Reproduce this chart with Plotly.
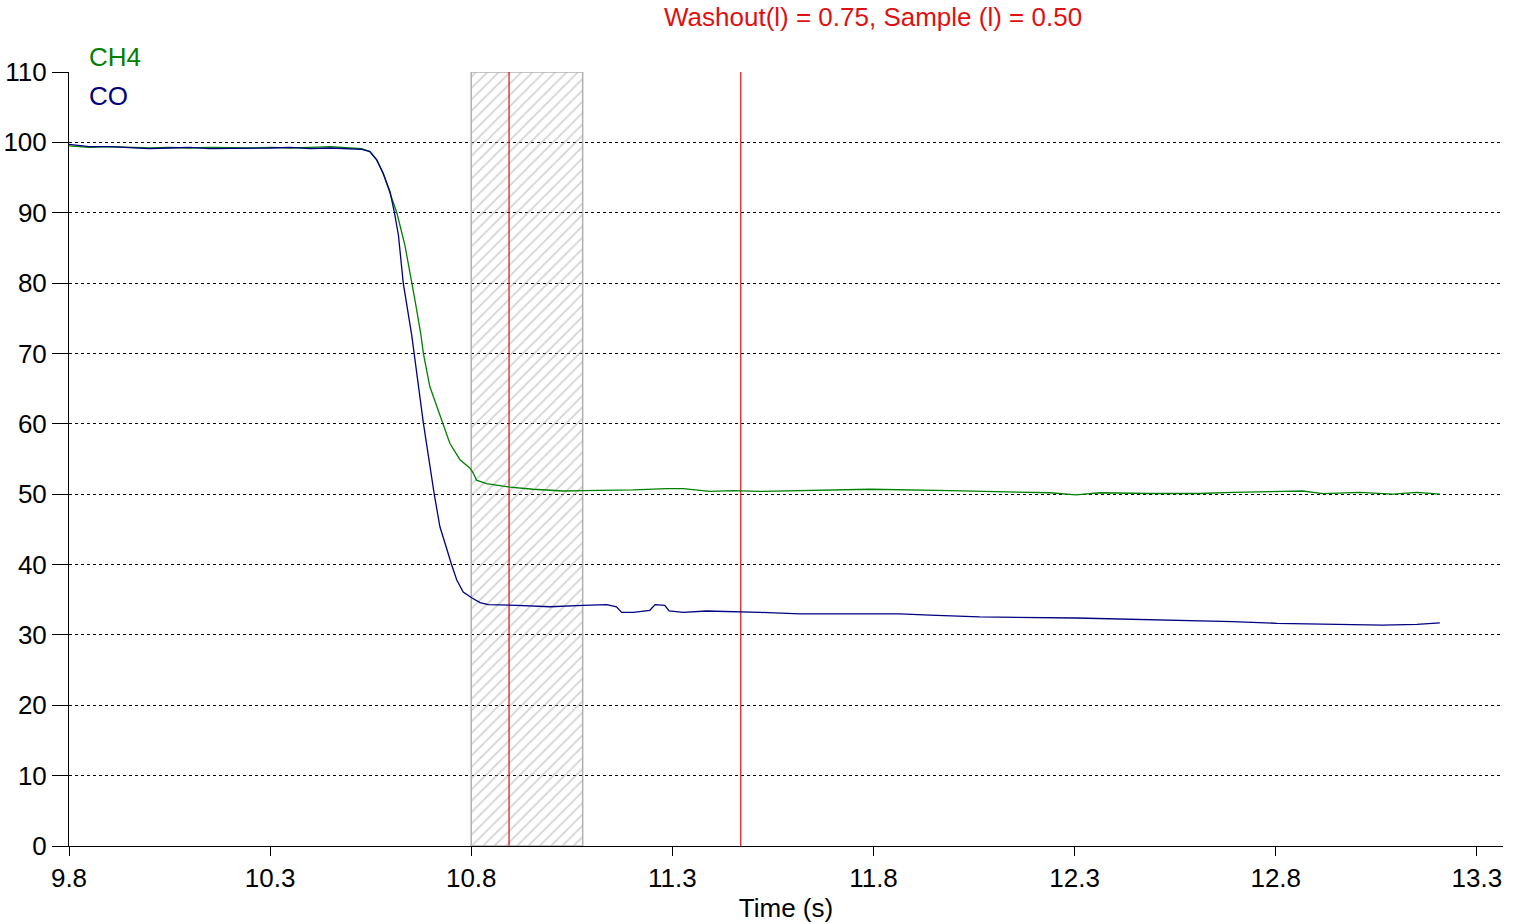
import plotly.graph_objects as go

# ---- data ----
co_t = [9.80, 9.85, 9.90, 9.95, 10.00, 10.05, 10.10, 10.15, 10.20, 10.25, 10.30, 10.35, 10.40, 10.45,
        10.498, 10.528, 10.548, 10.565, 10.581, 10.598, 10.609, 10.619, 10.631, 10.638, 10.652, 10.658,
        10.681, 10.708, 10.722, 10.751, 10.764, 10.780, 10.803, 10.822, 10.842, 10.913, 10.996, 11.078,
        11.137, 11.161, 11.174, 11.203, 11.244, 11.257, 11.281, 11.292, 11.327, 11.385, 11.468, 11.518,
        11.617, 11.866, 11.940, 12.064, 12.303, 12.487, 12.611, 12.693, 12.803, 12.885, 12.984, 13.066,
        13.151, 13.208]
co_v = [99.7, 99.4, 99.4, 99.3, 99.1, 99.2, 99.3, 99.1, 99.1, 99.2, 99.2, 99.3, 99.1, 99.2,
        99.1, 99.0, 98.7, 97.5, 95.6, 93.0, 90.0, 86.8, 80.0, 77.6, 72.6, 70.0,
        60.1, 50.0, 45.4, 40.0, 37.8, 36.1, 35.2, 34.6, 34.3, 34.2, 34.0, 34.2,
        34.3, 34.0, 33.2, 33.2, 33.5, 34.3, 34.2, 33.4, 33.2, 33.4, 33.3, 33.2,
        33.0, 33.0, 32.8, 32.55, 32.4, 32.2, 32.0, 31.9, 31.65, 31.55, 31.5, 31.4,
        31.5, 31.7]

ch4_t = [9.80, 9.85, 9.90, 9.95, 10.00, 10.05, 10.10, 10.15, 10.20, 10.25, 10.30, 10.35, 10.40, 10.45,
         10.498, 10.528, 10.548, 10.565, 10.581, 10.615, 10.635, 10.653, 10.660, 10.675, 10.681, 10.697,
         10.728, 10.747, 10.772, 10.797, 10.805, 10.813, 10.838, 10.871, 10.896, 10.954, 11.029, 11.078,
         11.203, 11.286, 11.327, 11.393, 11.451, 11.518, 11.617, 11.791, 11.990, 12.114, 12.239, 12.303,
         12.363, 12.487, 12.611, 12.693, 12.867, 12.917, 13.009, 13.091, 13.151, 13.208]
ch4_v = [99.5, 99.3, 99.4, 99.3, 99.2, 99.3, 99.2, 99.3, 99.2, 99.2, 99.3, 99.2, 99.3, 99.4,
         99.2, 99.1, 98.7, 97.5, 95.6, 90.0, 85.4, 80.0, 77.6, 72.6, 70.0, 65.3,
         60.1, 57.2, 54.9, 53.7, 53.0, 52.0, 51.5, 51.2, 51.0, 50.7, 50.45, 50.5,
         50.6, 50.8, 50.8, 50.4, 50.5, 50.4, 50.5, 50.7, 50.5, 50.3, 50.2, 49.9,
         50.2, 50.1, 50.1, 50.25, 50.45, 50.07, 50.25, 50.0, 50.25, 50.0]

window_start = 10.80
window_end = 11.077
marker_times = [10.894, 11.470]
y_min, y_max = 0, 110
x_range = [9.8, 13.365]
title_text = "Washout(l) = 0.75, Sample (l) = 0.50"
series_names = ["CH4", "CO"]

FONT = "Liberation Sans, Arial, sans-serif"
FS = 26
GREEN = "#008000"
NAVY = "#000080"
RED = "#e01010"

fig = go.Figure()

# hatched window
fig.add_trace(go.Scatter(
    x=[window_start, window_end, window_end, window_start, window_start],
    y=[y_min, y_min, y_max, y_max, y_min],
    mode="lines", fill="toself", fillcolor="rgba(0,0,0,0)",
    fillpattern=dict(shape="/", size=8, solidity=0.22, fgcolor="#a8a8a8",
                     bgcolor="rgba(0,0,0,0)"),
    line=dict(color="#b0b0b0", width=1.5), hoverinfo="skip", showlegend=False))

# red marker lines
for t in marker_times:
    fig.add_trace(go.Scatter(x=[t, t], y=[y_min, y_max], mode="lines",
                             line=dict(color=RED, width=1.2), hoverinfo="skip",
                             showlegend=False))

fig.add_trace(go.Scatter(x=ch4_t, y=ch4_v, mode="lines", name=series_names[0],
                         line=dict(color=GREEN, width=1.3), showlegend=False))
fig.add_trace(go.Scatter(x=co_t, y=co_v, mode="lines", name=series_names[1],
                         line=dict(color=NAVY, width=1.3), showlegend=False))

L, R, T, B = 69, 25, 72, 78
W, H = 1528, 924
fig.update_layout(
    width=W, height=H,
    margin=dict(l=L, r=R, t=T, b=B, pad=0),
    paper_bgcolor="white", plot_bgcolor="white",
    font=dict(family=FONT, size=FS, color="black"),
    xaxis=dict(range=x_range, tick0=9.8, dtick=0.5, tickformat=".1f", automargin=False,
               showgrid=False, zeroline=False, showline=True, linecolor="black",
               linewidth=1, ticks="outside", ticklen=9, tickcolor="black",
               tickfont=dict(size=FS, family=FONT),
               title=dict(text="Time (s)", font=dict(size=FS, family=FONT), standoff=6)),
    yaxis=dict(range=[y_min, y_max], tick0=0, dtick=10, automargin=False,
               showgrid=True, gridcolor="black", griddash="dot", gridwidth=1,
               zeroline=False, showline=True, linecolor="black", linewidth=1,
               ticks="outside", ticklen=16, tickcolor="black",
               tickfont=dict(size=FS, family=FONT)),
    annotations=[
        dict(text=title_text, xref="paper", yref="paper", x=0.5607, y=1.0711,
             xanchor="center", yanchor="middle", showarrow=False,
             font=dict(size=FS, color=RED, family=FONT)),
        dict(text=series_names[0], xref="paper", yref="paper", x=0.0125, y=1.0194,
             xanchor="left", yanchor="middle", showarrow=False,
             font=dict(size=FS, color=GREEN, family=FONT)),
        dict(text=series_names[1], xref="paper", yref="paper", x=0.0125, y=0.969,
             xanchor="left", yanchor="middle", showarrow=False,
             font=dict(size=FS, color=NAVY, family=FONT)),
    ],
)

fig.write_html("out.html")
